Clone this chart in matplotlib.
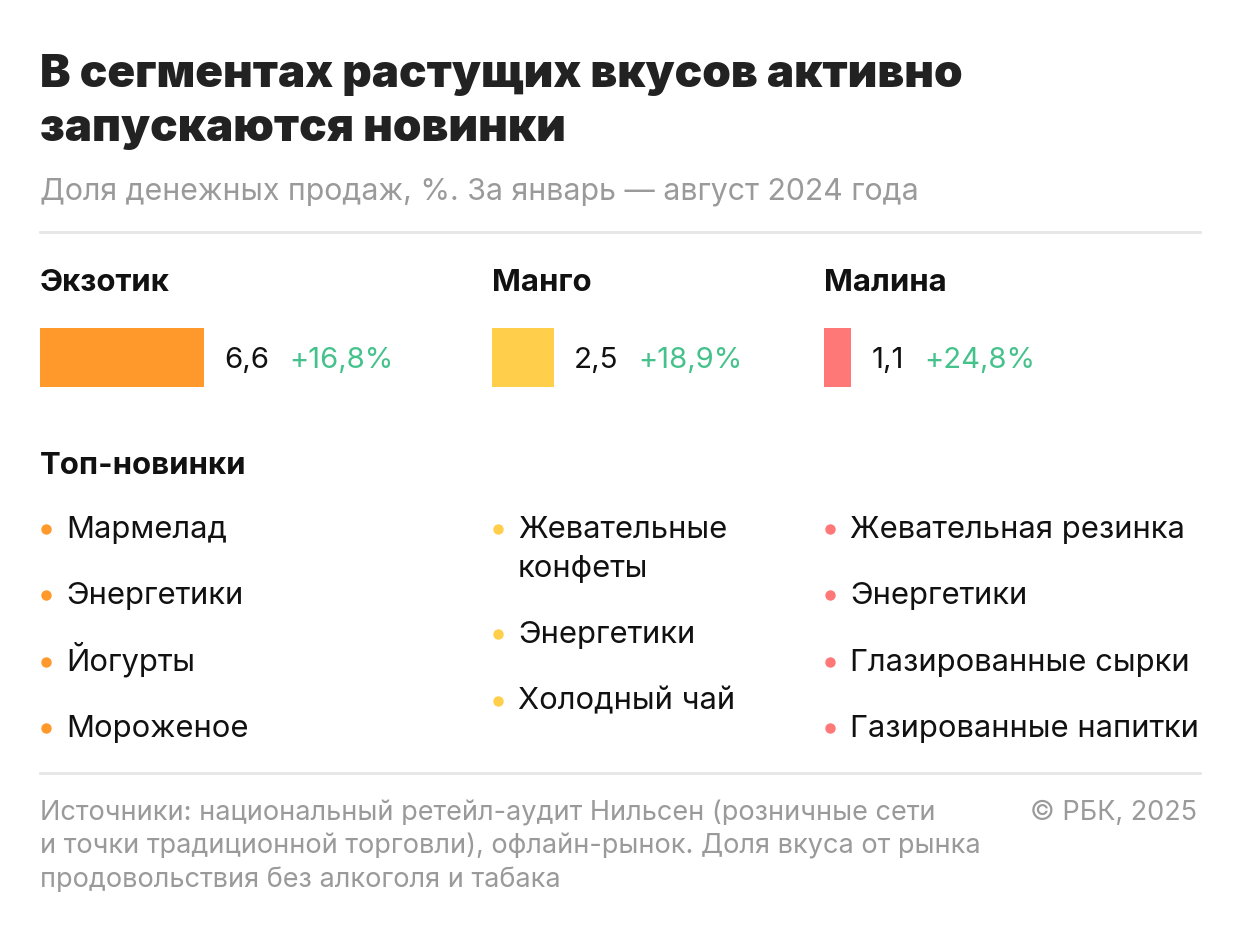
"""Инфографика: доля растущих вкусов и топ-новинки"""

import matplotlib
matplotlib.use('Agg')
import matplotlib.pyplot as plt

# данные
flavors = ['Экзотик', 'Манго', 'Малина']
shares = [6.6, 2.5, 1.1]
growth = ['+16,8%', '+18,9%', '+24,8%']
flavor_colors = ['#FF992B', '#FFCE4A', '#FF7878']
top_items = [
    ['Мармелад', 'Энергетики', 'Йогурты', 'Мороженое'],
    ['Жевательные\nконфеты', 'Энергетики', 'Холодный чай'],
    ['Жевательная резинка', 'Энергетики', 'Глазированные сырки', 'Газированные напитки'],
]

title_lines = ['В сегментах растущих вкусов активно', 'запускаются новинки']
subtitle = 'Доля денежных продаж, %. За январь — август 2024 года'
source_lines = ['Источники: национальный ретейл-аудит Нильсен (розничные сети',
                'и точки традиционной торговли), офлайн-рынок. Доля вкуса от рынка',
                'продовольствия без алкоголя и табака']
credit = '© РБК, 2025'

FONT = ['Inter', 'DejaVu Sans']
GREEN = '#45C28C'
GRAY = '#9A9A9A'
RULE = '#E6E6E6'

W, H = 1240, 934
fig = plt.figure(figsize=(W / 100, H / 100), dpi=100)
ax = fig.add_axes([0, 0, 1, 1])
ax.set_xlim(0, W)
ax.set_ylim(H, 0)
ax.axis('off')

# заголовок
for k, line in enumerate(title_lines):
    ax.text(40, 87 + 54 * k, line, family=FONT, fontsize=33, fontweight='black',
            color='#222222', va='baseline')
ax.text(40, 199, subtitle, family=FONT, fontsize=21.8, color=GRAY, va='baseline')
ax.plot([40, 1200], [232, 232], color=RULE, lw=2)

col_x = [40, 492, 824]
px_per_unit = 164 / 6.6
renderer = fig.canvas.get_renderer()

for i, (name, val, gr, c) in enumerate(zip(flavors, shares, growth, flavor_colors)):
    x0 = col_x[i]
    ax.text(x0, 291, name, family=FONT, fontsize=22.4, fontweight='bold', color='#111111',
            va='baseline')
    ax.barh(357.5, val * px_per_unit, left=x0, height=59, color=c)
    t = ax.text(x0 + val * px_per_unit + 20, 368, f'{val:.1f}'.replace('.', ','),
                family=FONT, fontsize=21.3, color='#111111', va='baseline')
    bb = t.get_window_extent(renderer)
    ax.text(bb.x1 + 20, 368, gr, family=FONT, fontsize=21, color=GREEN, va='baseline')

ax.text(40, 474, 'Топ-новинки', family=FONT, fontsize=22.4, fontweight='bold',
        color='#111111', va='baseline')

row_step = 66.3
for i, items in enumerate(top_items):
    x0 = col_x[i]
    y = 538
    for it in items:
        ax.plot(x0 + 6, y - 9, 'o', ms=7.5, color=flavor_colors[i], mec='none')
        for j, part in enumerate(it.split('\n')):
            ax.text(x0 + 26, y + 39 * j, part, family=FONT, fontsize=22.3,
                    color='#111111', va='baseline')
        y += row_step + 39 * it.count('\n')

ax.plot([40, 1200], [773, 773], color=RULE, lw=2)
for k, line in enumerate(source_lines):
    ax.text(40, 820 + 33.5 * k, line, family=FONT, fontsize=19.5, color=GRAY,
            va='baseline')
ax.text(1197, 820, credit, family=FONT, fontsize=19.5, color=GRAY, va='baseline', ha='right')

fig.savefig('out.png', dpi=100, facecolor='white')
